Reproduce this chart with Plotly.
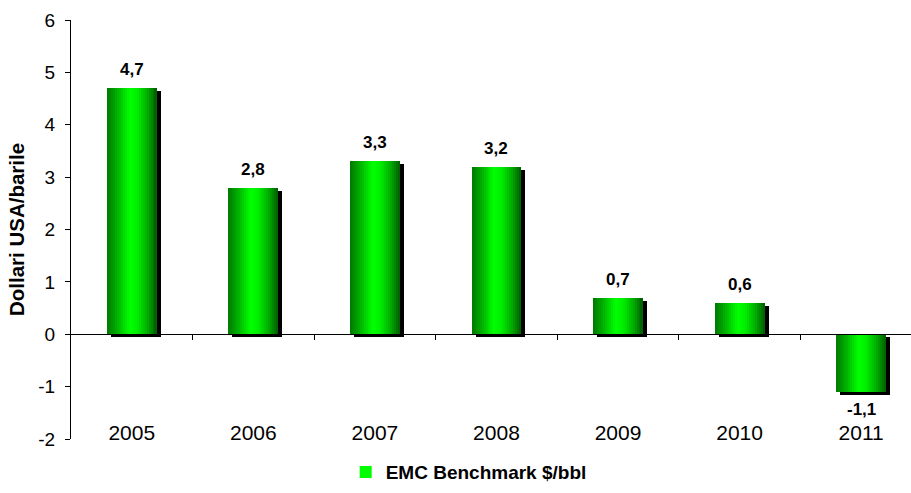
import plotly.graph_objects as go

# Data
years = ["2005", "2006", "2007", "2008", "2009", "2010", "2011"]
values = [4.7, 2.8, 3.3, 3.2, 0.7, 0.6, -1.1]
series_name = "EMC Benchmark $/bbl"
y_title = "Dollari USA/barile"
y_ticks = [-2, -1, 0, 1, 2, 3, 4, 5, 6]

FONT = "Liberation Sans, Arial, sans-serif"
W, H = 911, 493
ML, MR, MT, MB = 71, 0, 20, 54
X_RANGE = [-0.5, 6.41]
Y_RANGE = [-2, 6]

px_per_x = (W - ML - MR) / (X_RANGE[1] - X_RANGE[0])
px_per_y = (H - MT - MB) / (Y_RANGE[1] - Y_RANGE[0])

xs = list(range(len(years)))
bar_w = 0.41

# horizontal shading across each bar (dark edges, bright core)
stops = [(0.0, 0x78), (0.2, 0xb0), (0.45, 0xff), (0.6, 0xf0), (0.8, 0xb0), (1.0, 0x5c)]


def green_at(t):
    for (t0, g0), (t1, g1) in zip(stops[:-1], stops[1:]):
        if t0 <= t <= t1:
            g = g0 + (g1 - g0) * (t - t0) / (t1 - t0)
            return f"rgb(0,{int(round(g))},0)"
    return f"rgb(0,{stops[-1][1]},0)"


fig = go.Figure()

# drop shadow behind each bar
fig.add_trace(go.Bar(
    x=xs, y=values,
    base=[-3 / px_per_y] * len(values),
    width=bar_w, offset=-bar_w / 2 + 4 / px_per_x,
    marker=dict(color="black", line=dict(width=0)),
    showlegend=False, hoverinfo="skip",
))

# shaded bar body built from thin vertical strips
n_strips = 25
d = bar_w / n_strips
for i in range(n_strips):
    t = (i + 0.5) / n_strips
    w = d * 1.6 if i < n_strips - 1 else d
    fig.add_trace(go.Bar(
        x=xs, y=values,
        width=w, offset=-bar_w / 2 + i * d,
        marker=dict(color=green_at(t), line=dict(width=0)),
        name=f"<b>{series_name}</b>",
        showlegend=(i == 11),
        hoverinfo="skip",
    ))

# value labels
labels = [f"{v:.1f}".replace(".", ",") for v in values]
for x, v, lab in zip(xs, values, labels):
    fig.add_annotation(
        x=x, y=v, text=f"<b>{lab}</b>", showarrow=False,
        yanchor="bottom" if v >= 0 else "top",
        yshift=7 if v >= 0 else -6,
        font=dict(family=FONT, size=17, color="black"),
    )

# zero line with category boundary ticks
fig.add_trace(go.Scatter(
    x=[X_RANGE[0]], y=[0], xaxis="x2", mode="markers",
    marker=dict(opacity=0), showlegend=False, hoverinfo="skip",
))

fig.update_layout(
    width=W, height=H,
    margin=dict(l=ML, r=MR, t=MT, b=MB),
    paper_bgcolor="white", plot_bgcolor="white",
    barmode="overlay", bargap=0,
    font=dict(family=FONT, color="black"),
    xaxis=dict(
        range=X_RANGE, tickvals=xs, ticktext=years,
        anchor="free", position=0.05,
        ticks="", showline=False,
        showgrid=False, zeroline=False,
        tickfont=dict(family=FONT, size=21, color="black"),
    ),
    xaxis2=dict(
        overlaying="x", matches="x", anchor="free",
        position=(0 - Y_RANGE[0]) / (Y_RANGE[1] - Y_RANGE[0]),
        showline=True, linecolor="black", linewidth=1,
        ticks="outside", ticklen=5, tickcolor="black", tickwidth=1,
        tickvals=[x + 0.5 for x in xs[:-1]],
        showticklabels=False, showgrid=False, zeroline=False,
    ),
    yaxis=dict(
        range=Y_RANGE, tickvals=y_ticks, ticktext=[str(v) for v in y_ticks],
        showgrid=False, zeroline=False,
        showline=True, linecolor="black", linewidth=1,
        ticks="outside", ticklen=5, tickcolor="black",
        ticklabelstandoff=6,
        tickfont=dict(family=FONT, size=19, color="black"),
        title=dict(text=f"<b>{y_title}</b>", standoff=8,
                   font=dict(family=FONT, size=20.5, color="black")),
    ),
    legend=dict(
        orientation="h", x=0.327, xanchor="left", y=-0.079, yanchor="middle",
        font=dict(family=FONT, size=19, color="black"),
        bgcolor="rgba(0,0,0,0)",
    ),
)

fig.write_html("out.html")
